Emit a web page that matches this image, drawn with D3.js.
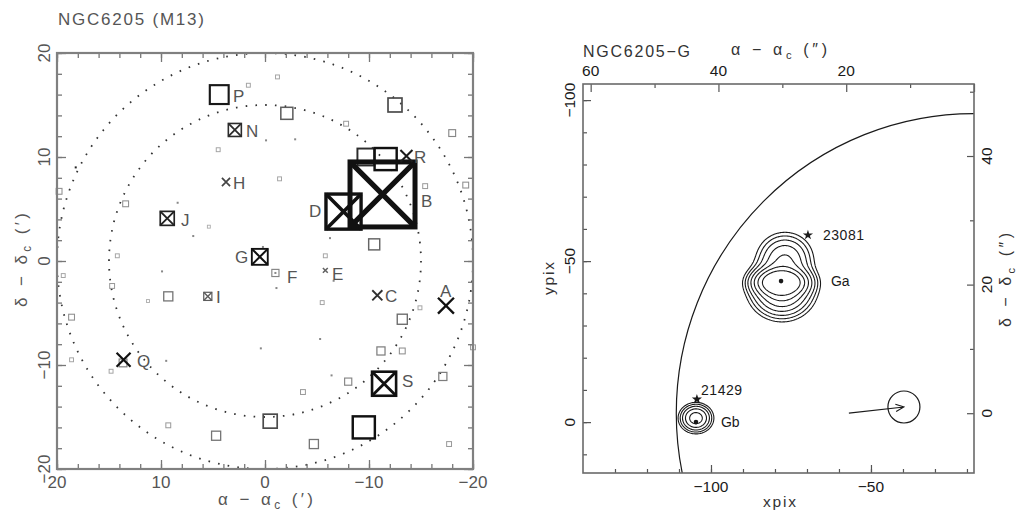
<!DOCTYPE html>
<html><head><meta charset="utf-8">
<script src="https://cdn.jsdelivr.net/npm/d3@7"></script>
<style>
body{margin:0;background:#fff;}
svg{display:block;font-family:"Liberation Sans",Arial,sans-serif;}
</style></head><body>
<svg id="c" width="1018" height="515"></svg>
<script>
// ================= DATA =================
// Left panel: NGC6205 (M13) field, offsets in arcmin from cluster centre
const leftTickValues = [20, 10, 0, -10, -20];
const ringRadii = [15, 20];                 // dotted rings (arcmin)
// open squares: [dRA, dDec, strength]
const squares = [
  [4.4,16.0,2.9],[1.6,16.9,0.6],[-1.2,17.7,0.6],[-2.1,14.2,1.85],[-12.5,15.0,2.15],
  [-7.8,13.2,0.75],[-18.0,12.3,1.05],[4.5,10.7,0.6],[-1.4,7.9,0.6],[13.4,5.5,0.9],
  [19.8,6.7,0.9],[5.4,3.3,0.45],[-9.7,10.0,2.6],[-11.6,9.8,3.4],[-15.4,7.2,0.75],
  [-19.3,7.3,0.9],[-10.5,1.6,1.7],[-5.8,0.5,0.6],[14.2,0.5,0.6],[-1.0,-1.15,1.1],
  [-5.5,-4.0,0.6],[-14.9,-4.5,0.6],[-13.2,-5.6,1.55],[9.3,-3.4,1.4],[11.25,-3.85,0.45],
  [14.7,-2.4,0.75],[19.4,-1.4,0.6],[18.6,-5.4,0.9],[13.65,-9.8,1.2],[18.6,-9.5,0.6],
  [14.8,-10.6,0.6],[-11.15,-8.65,1.25],[-13.2,-8.65,0.9],[-8.0,-11.6,1.1],[-17.1,-11.1,1.25],
  [-3.65,-12.6,0.75],[-0.5,-15.4,2.15],[-9.5,-16.0,3.4],[4.7,-16.8,1.4],[-4.7,-17.6,1.4],
  [9.3,-15.8,0.75],[-17.7,-17.6,0.75],[-20,-8.3,0.75]
];
// squares with a cross: [dRA, dDec, strength]
const boxedCrosses = [
  [2.9,12.6,2.0],[9.4,4.1,2.15],[-7.55,4.75,5.4],[-11.3,6.4,10],
  [0.5,0.4,2.45],[5.5,-3.4,1.25],[-11.45,-11.8,3.7]
];
// crosses: [dRA, dDec, strength]
const crosses = [
  [3.75,7.6,1.25],[-13.6,10.1,1.85],[-5.8,-0.9,0.75],[-10.8,-3.3,1.55],
  [-17.4,-4.3,2.45],[13.6,-9.5,2.15]
];
// faint point sources: [dRA, dDec]
const points = [
  [8.4,5.6],[-6.25,2.2],[-0.1,11.6],[-2.9,11.7],[18.2,9.0],[6.9,2.4],[0.2,1.35],
  [-6.6,-1.9],[-1.1,-2.6],[9.9,-1.0],[9.5,-9.6],[0.4,-8.4],[-5.3,-7.5],[-6.4,-11.0],[-1.0,-1.15]
];
// identification letters: [text, dRA, dDec] (text start, baseline)
const letters = [
  ["P",3.08,15.29],["N",1.83,11.92],["H",3.08,6.92],["J",8.08,3.37],["D",-4.23,4.23],
  ["B",-15.0,5.19],["R",-14.33,9.42],["G",2.88,-0.19],["F",-2.12,-2.12],["E",-6.44,-1.83],
  ["C",-11.54,-3.94],["A",-16.83,-3.46],["I",4.71,-4.04],["Q",12.31,-10.19],["S",-13.17,-12.12]
];

// Right panel: NGC6205-G detail
const xpixTicks = [-100, -50];
const ypixTicks = [-100, -50, 0];
const arcXTicks = [60, 40, 20];
const arcYTicks = [0, 20, 40];
const coreRadiusArcsec = 46.6;              // arc drawn around cluster centre
// emission components: [xpix, ypix, sigmaX, sigmaY, amplitude]
const blobs = [
  [-78.125,-43.48,3.75,2.02,1.0],
  [-77.81,-41.61,4.375,4.04,0.35],
  [-76.875,-50.93,4.06,3.73,0.12],
  [-104.69,-1.24,2.4,2.1,0.181]
];
const contourLevels = [0.012,0.022,0.039,0.071,0.129,0.234,0.425];
const peaks = [[-78.1,-43.8],[-104.7,0]];
const stars = [[-69.7,-58.1],[-104.4,-7.1]];
const starNames = [["23081",-65.0,-56.5],["21429",-103.1,-8.4]];
const blobNames = [["Ga",-62.5,-42.2],["Gb",-96.9,1.55]];
const motionFrom = [-56.9,-2.8], motionTo = [-39.7,-4.7], beamRadius = 5;

// ================= DRAW =================
const svg = d3.select("#c");
const L = {x0:57, x1:473, y0:53, y1:469};
const R = {x0:583, x1:974, y0:84, y1:473};

// ---------- Left panel ----------
const xL = d3.scaleLinear([20,-20],[L.x0,L.x1]);
const yL = d3.scaleLinear([20,-20],[L.y0,L.y1]);
const sideS = d3.scaleLinear([0,10],[0,65]);
const widthS = d3.scaleLinear([0.4,1,2,3.5,5.4,10],[0.9,1.1,1.6,2.5,3.4,5]).clamp(true);
const colS = d3.scaleLinear([0.4,1,2,3],["#b0b0b0","#8a8a8a","#555","#111"]).clamp(true);
const gray = "#555";

svg.append("clipPath").attr("id","clipL").append("rect")
  .attr("x",L.x0).attr("y",L.y0).attr("width",L.x1-L.x0).attr("height",L.y1-L.y0);
const gL = svg.append("g");

gL.append("g").attr("clip-path","url(#clipL)").selectAll("circle").data(ringRadii).join("circle")
  .attr("cx",xL(0)).attr("cy",yL(0)).attr("r",d=>xL(0)-xL(d))
  .attr("fill","none").attr("stroke","#333").attr("stroke-width",1.8)
  .attr("stroke-dasharray","1.6 8.2");

gL.selectAll("rect.pt").data(points).join("rect").attr("class","pt")
  .attr("x",d=>xL(d[0])-1).attr("y",d=>yL(d[1])-1).attr("width",2).attr("height",2)
  .attr("fill",(d,i)=>i===4?"#222":"#888");

gL.selectAll("rect.sq").data(squares).join("rect").attr("class","sq")
  .attr("x",d=>xL(d[0])-sideS(d[2])/2).attr("y",d=>yL(d[1])-sideS(d[2])/2)
  .attr("width",d=>sideS(d[2])).attr("height",d=>sideS(d[2]))
  .attr("fill","none").attr("stroke",d=>colS(d[2])).attr("stroke-width",d=>widthS(d[2]));

const bx = gL.selectAll("g.bx").data(boxedCrosses).join("g").attr("class","bx");
bx.append("rect")
  .attr("x",d=>xL(d[0])-sideS(d[2])/2).attr("y",d=>yL(d[1])-sideS(d[2])/2)
  .attr("width",d=>sideS(d[2])).attr("height",d=>sideS(d[2]))
  .attr("fill","none").attr("stroke",d=>colS(d[2]+0.6)).attr("stroke-width",d=>widthS(d[2]));
bx.append("path")
  .attr("d",d=>{const h=sideS(d[2])/2,x=xL(d[0]),y=yL(d[1]);
    return `M${x-h},${y-h}L${x+h},${y+h}M${x+h},${y-h}L${x-h},${y+h}`;})
  .attr("stroke",d=>colS(d[2]+0.6)).attr("stroke-width",d=>widthS(d[2])+0.2);

gL.selectAll("path.cr").data(crosses).join("path").attr("class","cr")
  .attr("d",d=>{const h=sideS(d[2])/2,x=xL(d[0]),y=yL(d[1]);
    return `M${x-h},${y-h}L${x+h},${y+h}M${x+h},${y-h}L${x-h},${y+h}`;})
  .attr("stroke",d=>colS(d[2]+1)).attr("stroke-width",d=>widthS(d[2])+0.5);

gL.selectAll("text.lt").data(letters).join("text").attr("class","lt")
  .attr("x",d=>xL(d[1])).attr("y",d=>yL(d[2])).text(d=>d[0])
  .attr("font-size",17).attr("fill",gray);

// frame + ticks
function inwardTicks(g, scaleX, scaleY, box, minorVals, majorVals, minorLen, majorLen, color){
  [[minorVals,minorLen],[majorVals,majorLen]].forEach(([vals,len])=>{
    g.append("g").attr("transform",`translate(0,${box.y1})`)
      .call(d3.axisBottom(scaleX).tickValues(vals).tickSize(-len).tickFormat(""));
    g.append("g").attr("transform",`translate(0,${box.y0})`)
      .call(d3.axisTop(scaleX).tickValues(vals).tickSize(-len).tickFormat(""));
  });
  g.selectAll(".domain").remove();
  g.selectAll("line").attr("stroke",color);
}
function inwardTicksY(g, scaleY, box, minorVals, majorVals, minorLen, majorLen, color){
  [[minorVals,minorLen],[majorVals,majorLen]].forEach(([vals,len])=>{
    g.append("g").attr("transform",`translate(${box.x0},0)`)
      .call(d3.axisLeft(scaleY).tickValues(vals).tickSize(-len).tickFormat(""));
    g.append("g").attr("transform",`translate(${box.x1},0)`)
      .call(d3.axisRight(scaleY).tickValues(vals).tickSize(-len).tickFormat(""));
  });
  g.selectAll(".domain").remove();
  g.selectAll("line").attr("stroke",color);
}
const minorL = d3.range(-20,21,2);
const tkL = gL.append("g");
inwardTicks(tkL.append("g"), xL, yL, L, minorL, leftTickValues, 5, 9, "#777");
inwardTicksY(tkL.append("g"), yL, L, minorL, leftTickValues, 5, 9, "#777");
tkL.selectAll("line").attr("stroke-width",1.3);
gL.append("rect").attr("x",L.x0).attr("y",L.y0).attr("width",L.x1-L.x0).attr("height",L.y1-L.y0)
  .attr("fill","none").attr("stroke","#808080").attr("stroke-width",2.2);

const fmt = d=>d3.format("d")(d).replace("-","−");
gL.selectAll("text.xt").data(leftTickValues).join("text").attr("class","xt")
  .attr("x",d=>xL(d)).attr("y",488).attr("text-anchor","middle")
  .attr("font-size",17).attr("fill",gray).text(fmt);
gL.selectAll("text.yt").data(leftTickValues).join("text").attr("class","yt")
  .attr("transform",d=>`translate(50,${yL(d)}) rotate(-90)`).attr("text-anchor","middle")
  .attr("font-size",17).attr("fill",gray).text(fmt);

function subLabel(t, a, b, fs){
  t.append("tspan").text(a);
  t.append("tspan").attr("font-size",fs*0.7).attr("dy",4).text("c");
  t.append("tspan").attr("dy",-4).text(b);
}
svg.append("text").attr("x",58).attr("y",25).attr("font-size",17).attr("fill",gray)
  .attr("textLength",146).attr("lengthAdjust","spacing").text("NGC6205 (M13)");
subLabel(svg.append("text").attr("x",218).attr("y",505).attr("font-size",17).attr("fill",gray)
  .attr("textLength",95).attr("lengthAdjust","spacing"), "α − α", " (′)", 17);
subLabel(svg.append("text").attr("transform","translate(27,307) rotate(-90)").attr("font-size",17).attr("fill",gray)
  .attr("textLength",94).attr("lengthAdjust","spacing"), "δ − δ", " (′)", 17);

// ---------- Right panel ----------
const xP = d3.scaleLinear([-140,-17.8],[R.x0,R.x1]);
const yP = d3.scaleLinear([-105,15.8],[R.y0,R.y1]);
const xA = d3.scaleLinear([61.2,0],[R.x0,R.x1]);
const yA = d3.scaleLinear([51.2,-9.3],[R.y0,R.y1]);
const ink = "#1a1a1a";

svg.append("clipPath").attr("id","clipR").append("rect")
  .attr("x",R.x0).attr("y",R.y0).attr("width",R.x1-R.x0).attr("height",R.y1-R.y0);
const gR = svg.append("g");
const gRc = gR.append("g").attr("clip-path","url(#clipR)");

gRc.append("ellipse").attr("cx",xA(0)).attr("cy",yA(0))
  .attr("rx",xA(0)-xA(coreRadiusArcsec)).attr("ry",yA(-coreRadiusArcsec)-yA(0))
  .attr("fill","none").attr("stroke",ink).attr("stroke-width",1.2);

// contour field from emission components
const step = 0.25, gx0 = -140, gy0 = -105;
const nx = Math.round((-17.8-gx0)/step)+1, ny = Math.round((15.8-gy0)/step)+1;
const vals = new Float64Array(nx*ny);
for(let j=0;j<ny;j++){ const y=gy0+j*step;
  for(let i=0;i<nx;i++){ const x=gx0+i*step; let v=0;
    for(const b of blobs){ const dx=(x-b[0])/b[2], dy=(y-b[1])/b[3]; v+=b[4]*Math.exp(-0.5*(dx*dx+dy*dy)); }
    vals[j*nx+i]=v; } }
const cs = d3.contours().size([nx,ny]).thresholds(contourLevels)(vals);
const proj = d3.geoTransform({point(x,y){ this.stream.point(xP(gx0+(x-0.5)*step), yP(gy0+(y-0.5)*step)); }});
gRc.selectAll("path.ct").data(cs).join("path").attr("class","ct")
  .attr("d",d3.geoPath(proj)).attr("fill","none").attr("stroke",ink).attr("stroke-width",1.1);

gRc.selectAll("circle.pk").data(peaks).join("circle").attr("class","pk")
  .attr("cx",d=>xP(d[0])).attr("cy",d=>yP(d[1])).attr("r",2.3).attr("fill",ink);
gRc.selectAll("path.st").data(stars).join("path").attr("class","st")
  .attr("transform",d=>`translate(${xP(d[0])},${yP(d[1])})`)
  .attr("d",d3.symbol(d3.symbolStar,32)).attr("fill",ink);
gR.selectAll("text.sn").data(starNames).join("text").attr("class","sn")
  .attr("x",d=>xP(d[1])).attr("y",d=>yP(d[2])).text(d=>d[0])
  .attr("font-size",14).attr("fill",ink).attr("textLength",41).attr("lengthAdjust","spacing");
gR.selectAll("text.bn").data(blobNames).join("text").attr("class","bn")
  .attr("x",d=>xP(d[1])).attr("y",d=>yP(d[2])).text(d=>d[0])
  .attr("font-size",14).attr("fill",ink);

// proper-motion arrow and beam circle
{
  const x1=xP(motionFrom[0]), y1=yP(motionFrom[1]), x2=xP(motionTo[0]), y2=yP(motionTo[1]);
  const a=Math.atan2(y2-y1,x2-x1), hl=9, ha=0.42;
  gRc.append("path").attr("d",
    `M${x1},${y1}L${x2},${y2}M${x2-hl*Math.cos(a-ha)},${y2-hl*Math.sin(a-ha)}L${x2},${y2}L${x2-hl*Math.cos(a+ha)},${y2-hl*Math.sin(a+ha)}`)
    .attr("fill","none").attr("stroke",ink).attr("stroke-width",1.1);
  gRc.append("circle").attr("cx",x2).attr("cy",y2).attr("r",xP(motionTo[0]+beamRadius)-x2)
    .attr("fill","none").attr("stroke",ink).attr("stroke-width",1.2);
}

// right panel ticks
const tkR = gR.append("g");
[[d3.range(-130,-17,10),4],[xpixTicks,8]].forEach(([v,len])=>{
  tkR.append("g").attr("transform",`translate(0,${R.y1})`)
    .call(d3.axisBottom(xP).tickValues(v).tickSize(-len).tickFormat(""));
});
[[d3.range(-100,16,10),4],[ypixTicks,8]].forEach(([v,len])=>{
  tkR.append("g").attr("transform",`translate(${R.x0},0)`)
    .call(d3.axisLeft(yP).tickValues(v).tickSize(-len).tickFormat(""));
});
[[[50,30,10],4],[arcXTicks.concat([0]),8]].forEach(([v,len])=>{
  tkR.append("g").attr("transform",`translate(0,${R.y0})`)
    .call(d3.axisTop(xA).tickValues(v).tickSize(-len).tickFormat(""));
});
[[[10,30,50],4],[arcYTicks,7]].forEach(([v,len])=>{
  tkR.append("g").attr("transform",`translate(${R.x1},0)`)
    .call(d3.axisRight(yA).tickValues(v).tickSize(-len).tickFormat(""));
});
tkR.selectAll(".domain").remove();
tkR.selectAll("line").attr("stroke","#555").attr("stroke-width",1.2);
gR.append("rect").attr("x",R.x0).attr("y",R.y0).attr("width",R.x1-R.x0).attr("height",R.y1-R.y0)
  .attr("fill","none").attr("stroke","#6a6a6a").attr("stroke-width",1.6);

const fsR = 15.5;
gR.selectAll("text.xb").data(xpixTicks).join("text").attr("class","xb")
  .attr("x",d=>xP(d)).attr("y",492).attr("text-anchor","middle").attr("font-size",fsR).attr("fill",ink).text(fmt);
gR.selectAll("text.yl").data(ypixTicks).join("text").attr("class","yl")
  .attr("transform",d=>`translate(575,${yP(d)}) rotate(-90)`).attr("text-anchor","middle")
  .attr("font-size",fsR).attr("fill",ink).text(fmt);
gR.selectAll("text.xt").data(arcXTicks).join("text").attr("class","xt")
  .attr("x",d=>xA(d)).attr("y",76).attr("text-anchor","middle").attr("font-size",fsR).attr("fill",ink).text(fmt);
gR.selectAll("text.yr").data(arcYTicks).join("text").attr("class","yr")
  .attr("transform",d=>`translate(992,${yA(d)}) rotate(-90)`).attr("text-anchor","middle")
  .attr("font-size",fsR).attr("fill",ink).text(fmt);

gR.append("text").attr("x",583).attr("y",57).attr("font-size",16).attr("fill","#333")
  .attr("textLength",107).attr("lengthAdjust","spacing").text("NGC6205−G");
subLabel(gR.append("text").attr("x",731).attr("y",55).attr("font-size",16).attr("fill","#333")
  .attr("textLength",96).attr("lengthAdjust","spacing"), "α − α", " (″)", 16);
gR.append("text").attr("x",779.5).attr("y",507).attr("text-anchor","middle").attr("font-size",fsR).attr("fill","#333")
  .attr("textLength",33).attr("lengthAdjust","spacing").text("xpix");
gR.append("text").attr("transform","translate(554,295) rotate(-90)").attr("font-size",fsR).attr("fill","#333")
  .attr("textLength",33).attr("lengthAdjust","spacing").text("ypix");
subLabel(gR.append("text").attr("transform","translate(1011,327) rotate(-90)").attr("font-size",16).attr("fill","#333")
  .attr("textLength",94).attr("lengthAdjust","spacing"), "δ − δ", " (″)", 16);
</script>
</body></html>
